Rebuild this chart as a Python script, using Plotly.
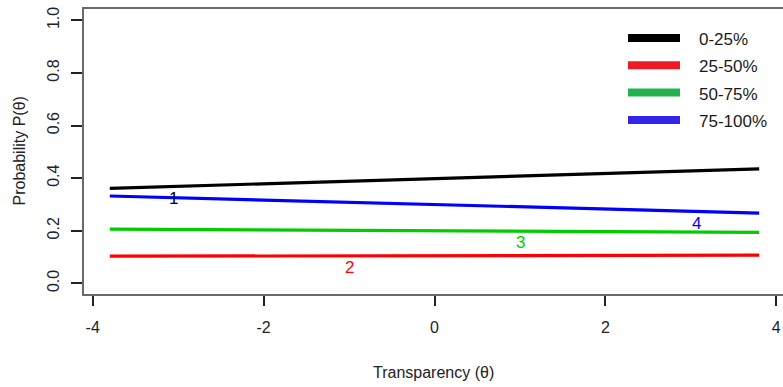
import plotly.graph_objects as go

# ---- data ----
theta = [-3.8, -2.0, 0.0, 2.0, 3.8]
p_cat1 = [0.361, 0.378, 0.398, 0.417, 0.435]
p_cat2 = [0.103, 0.104, 0.105, 0.106, 0.107]
p_cat3 = [0.206, 0.203, 0.200, 0.197, 0.194]
p_cat4 = [0.332, 0.317, 0.300, 0.283, 0.267]

curve_labels = ["1", "2", "3", "4"]
label_theta = [-3.06, -1.0, 1.01, 3.07]
label_prob = [0.323, 0.061, 0.156, 0.228]

legend_names = ["0-25%", "25-50%", "50-75%", "75-100%"]
x_ticks = [-4, -2, 0, 2, 4]
y_ticks = [0.0, 0.2, 0.4, 0.6, 0.8, 1.0]

# ---- styles ----
curve_colors = ["#000000", "#ff0000", "#00cc00", "#0000ff"]
legend_colors = ["#000000", "#ed1c24", "#22b14c", "#3424e8"]
FONT = "Liberation Sans, Arial, sans-serif"

W, H = 783, 387
ML, MR, MT, MB = 84, 0, 9, 93
PW, PH = W - ML - MR, H - MT - MB


def px_x(p):
    return (p - ML) / PW


def px_y(p):
    return (H - MB - p) / PH


fig = go.Figure()
series = [p_cat1, p_cat2, p_cat3, p_cat4]
for name, vals, col in zip(legend_names, series, curve_colors):
    fig.add_trace(go.Scatter(x=theta, y=vals, mode="lines", name=name,
                             line=dict(color=col, width=3.2),
                             showlegend=False, hoverinfo="skip"))

for lab, lx, ly, col in zip(curve_labels, label_theta, label_prob, curve_colors):
    fig.add_annotation(x=lx, y=ly, xref="x", yref="y", text=lab,
                       showarrow=False, font=dict(family=FONT, size=17, color=col))

# manual legend (as in the reference image)
for i, (name, col) in enumerate(zip(legend_names, legend_colors)):
    cy = 38 + 27.3 * i
    fig.add_shape(type="line", xref="paper", yref="paper",
                  x0=px_x(628), x1=px_x(680), y0=px_y(cy), y1=px_y(cy),
                  line=dict(color=col, width=8))
    fig.add_annotation(xref="paper", yref="paper", x=px_x(697), y=px_y(cy + 1.5),
                       xanchor="left", yanchor="middle", text=name, showarrow=False,
                       font=dict(family=FONT, size=17, color="#1a1a1a"))

# axis titles
fig.add_annotation(xref="paper", yref="paper", x=px_x(433), y=0, yanchor="middle",
                   yshift=-(372 - (H - MB)), text="Transparency (θ)", showarrow=False,
                   font=dict(family=FONT, size=16, color="#222222"))
fig.add_annotation(xref="paper", yref="paper", x=0, y=0.5, xanchor="center",
                   xshift=-(ML - 19), textangle=-90, text="Probability P(θ)",
                   showarrow=False, font=dict(family=FONT, size=16, color="#222222"))

x_lo = (ML - 434.5) / 85.45
x_hi = (W - MR - 434.5) / 85.45
y_lo = -(H - MB - 283.3) / 263.0
y_hi = (283.3 - MT) / 263.0

fig.update_layout(
    width=W, height=H, margin=dict(l=ML, r=MR, t=MT, b=MB),
    paper_bgcolor="white", plot_bgcolor="white", showlegend=False,
    font=dict(family=FONT, size=16, color="#222222"),
    xaxis=dict(range=[x_lo, x_hi], tickvals=x_ticks, ticktext=[str(v) for v in x_ticks],
               showgrid=False, zeroline=False, showline=True, linecolor="#6a6a6a",
               linewidth=2, mirror=True, ticks="outside", ticklen=10, tickwidth=1.5,
               tickcolor="#222222", automargin=False, ticklabelstandoff=8),
    yaxis=dict(range=[y_lo, y_hi], tickvals=y_ticks,
               ticktext=[f"{v:.1f}" for v in y_ticks], tickangle=-90,
               showgrid=False, zeroline=False, showline=True, linecolor="#6a6a6a",
               linewidth=2, ticks="outside", ticklen=11, tickwidth=1.5,
               tickcolor="#222222", automargin=False, ticklabelstandoff=6),
)

fig.write_html("out.html")
